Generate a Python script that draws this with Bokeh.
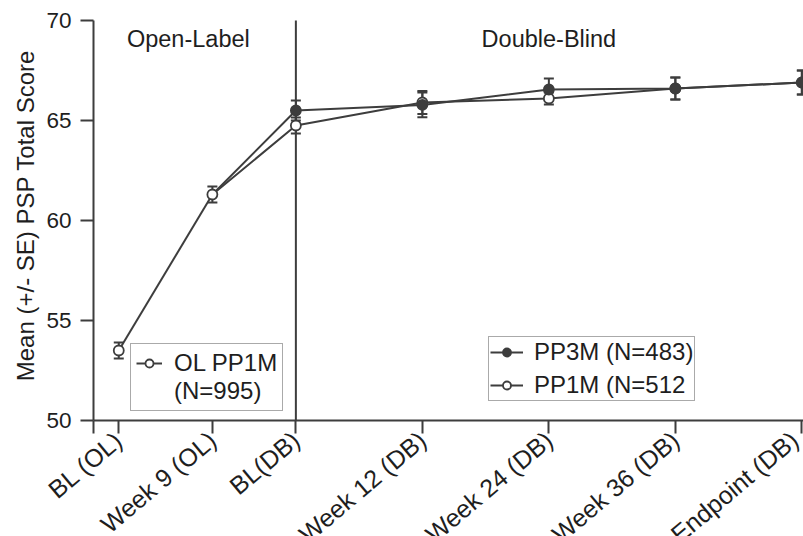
from bokeh.plotting import figure
from bokeh.embed import file_html
from bokeh.resources import INLINE
from bokeh.models import (ColumnDataSource, Whisker, TeeHead, FixedTicker, CustomJSTickFormatter,
                          Label, Legend, LegendItem, Range1d)
import math

# ---- data ----
labels = ["BL (OL)", "Week 9 (OL)", "BL(DB)", "Week 12 (DB)", "Week 24 (DB)", "Week 36 (DB)", "Endpoint (DB)"]
x_pos = [0.2, 0.94, 1.6, 2.6, 3.6, 4.6, 5.6]

ol_mean = [53.5, 61.3]
ol_se = [0.4, 0.4]

pp3m_mean = [65.5, 65.78, 66.55, 66.6, 66.9]
pp3m_se = [0.5, 0.62, 0.55, 0.55, 0.6]

pp1m_mean = [64.75, 65.9, 66.1, 66.6, 66.9]
pp1m_se = [0.4, 0.58, 0.3, 0.55, 0.6]

y_ticks = [50, 55, 60, 65, 70]
y_title = "Mean (+/- SE) PSP Total Score"

FONT = "Liberation Sans"
DARK = "#3d3d3d"
TXT = "#1e1e1e"

# The frame fills the page; both axes sit at fixed data locations so the rotated
# x labels can run off the bottom edge as in the original.
p = figure(width=803, height=536, x_range=Range1d(-0.735, 5.613), y_range=Range1d(44.2, 71.0),
           output_backend="svg", toolbar_location=None,
           min_border_left=0, min_border_right=0, min_border_top=0, min_border_bottom=0)
p.outline_line_color = None
p.grid.visible = False
p.background_fill_color = "white"

# axes
p.xaxis.fixed_location = y_ticks[0]
p.yaxis.fixed_location = 0
p.xaxis.ticker = FixedTicker(ticks=[0.0] + x_pos)
p.xaxis.formatter = CustomJSTickFormatter(args=dict(xs=x_pos, labs=labels), code="""
const i = xs.findIndex(t => Math.abs(t - tick) < 1e-6);
return i >= 0 ? labs[i] : '';
""")
p.xaxis.bounds = (0, x_pos[-1] + 1)
p.xaxis.major_label_orientation = math.radians(40)
p.xaxis.major_label_text_font_size = "25px"
p.xaxis.major_label_standoff = 3
p.yaxis.ticker = FixedTicker(ticks=y_ticks)
p.yaxis.bounds = (y_ticks[0], y_ticks[-1])
for ax in (p.xaxis[0], p.yaxis[0]):
    ax.axis_line_color = DARK
    ax.axis_line_width = 2
    ax.major_tick_line_color = DARK
    ax.major_tick_line_width = 2
    ax.major_tick_out = 13
    ax.major_tick_in = 0
    ax.minor_tick_line_color = None
    ax.major_label_text_font = FONT
    ax.major_label_text_color = TXT
p.yaxis.major_label_text_font_size = "22.5px"
p.yaxis.major_label_standoff = 9

# y-axis title
p.add_layout(Label(x=25, x_units="screen", y=60.25, text=y_title, angle=math.pi / 2,
                   text_align="center", text_baseline="middle", text_font=FONT,
                   text_font_size="24px", text_color=TXT))

# separator between open-label and double-blind phases
p.line([x_pos[2], x_pos[2]], [y_ticks[0], y_ticks[-1]], line_color=DARK, line_width=2)

# phase labels
p.add_layout(Label(x=(x_pos[0] + x_pos[1]) / 2 + 0.18, y=69.1, text="Open-Label", text_align="center",
                   text_baseline="middle", text_font=FONT, text_font_size="23.5px", text_color=TXT))
p.add_layout(Label(x=x_pos[4], y=69.1, text="Double-Blind", text_align="center",
                   text_baseline="middle", text_font=FONT, text_font_size="23.5px", text_color=TXT))

# sources
ol_src = ColumnDataSource(dict(x=x_pos[:2], y=ol_mean,
                               lo=[m - s for m, s in zip(ol_mean, ol_se)],
                               hi=[m + s for m, s in zip(ol_mean, ol_se)]))
p3_src = ColumnDataSource(dict(x=x_pos[2:], y=pp3m_mean,
                               lo=[m - s for m, s in zip(pp3m_mean, pp3m_se)],
                               hi=[m + s for m, s in zip(pp3m_mean, pp3m_se)]))
p1_src = ColumnDataSource(dict(x=x_pos[2:], y=pp1m_mean,
                               lo=[m - s for m, s in zip(pp1m_mean, pp1m_se)],
                               hi=[m + s for m, s in zip(pp1m_mean, pp1m_se)]))

# lines
ol_line = p.line(x_pos[:2], ol_mean, line_color=DARK, line_width=2)
p1_line = p.line(x_pos[1:], [ol_mean[1]] + pp1m_mean, line_color=DARK, line_width=2)
p3_line = p.line(x_pos[1:], [ol_mean[1]] + pp3m_mean, line_color=DARK, line_width=2)
blank = p.line([], [], line_alpha=0)

# error bars
for src in (ol_src, p1_src, p3_src):
    p.add_layout(Whisker(source=src, base="x", lower="lo", upper="hi", line_color=DARK, line_width=2,
                         upper_head=TeeHead(size=10, line_color=DARK, line_width=2),
                         lower_head=TeeHead(size=10, line_color=DARK, line_width=2)))

# markers
ol_pts = p.scatter("x", "y", source=ol_src, size=10, marker="circle", fill_color="white",
                   line_color=DARK, line_width=1.8)
p1_pts = p.scatter("x", "y", source=p1_src, size=10, marker="circle", fill_color="white",
                   line_color=DARK, line_width=1.8)
p3_pts = p.scatter("x", "y", source=p3_src, size=10, marker="circle", fill_color=DARK,
                   line_color=DARK, line_width=1.8)

def mk_legend(items, loc, glyph_w, standoff, pad, spacing):
    return Legend(items=items, location=loc, orientation="vertical",
                  label_text_font=FONT, label_text_font_size="24px", label_text_color=TXT,
                  glyph_width=glyph_w, glyph_height=20, label_standoff=standoff, label_height=24,
                  padding=pad, spacing=spacing, margin=0,
                  border_line_color="#555555", border_line_width=1.5, background_fill_alpha=1)

lg1 = mk_legend([LegendItem(label="OL PP1M", renderers=[ol_line, ol_pts]),
                 LegendItem(label="(N=995)", renderers=[blank])], (130, 125), 26, 12, 5, 0)
lg2 = mk_legend([LegendItem(label="PP3M (N=483)", renderers=[p3_line, p3_pts]),
                 LegendItem(label="PP1M (N=512", renderers=[p1_line, p1_pts])], (488, 135), 33, 11, 1, 5)
p.add_layout(lg1, "center")
p.add_layout(lg2, "center")

open("out.html", "w").write(file_html(p, INLINE))
